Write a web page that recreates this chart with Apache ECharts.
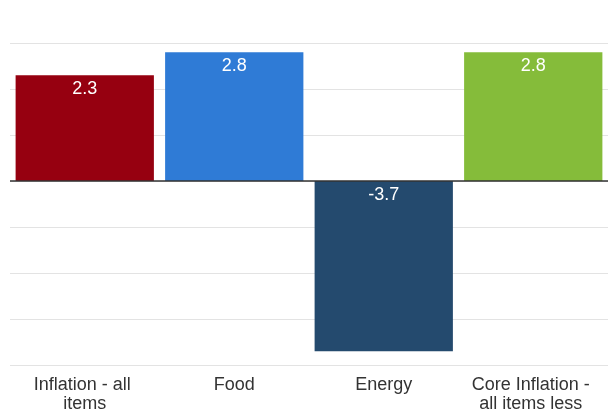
<!DOCTYPE html>
<html>
<head>
<meta charset="utf-8">
<script src="https://cdn.jsdelivr.net/npm/echarts@6/dist/echarts.min.js"></script>
<style>
html,body{margin:0;padding:0;background:#fff;overflow:hidden;}
#chart{width:613px;height:420px;}
</style>
</head>
<body>
<div id="chart"></div>
<script>
const categories = ['Inflation - all items', 'Food', 'Energy', 'Core Inflation - all items less food and energy'];
const values = [2.3, 2.8, -3.7, 2.8];
const barColors = ['#960010', '#2f7bd6', '#244a6e', '#85bc3a'];

const chart = echarts.init(document.getElementById('chart'));
chart.setOption({
  animation: false,
  grid: {left: 10, right: 5, top: 43, bottom: 55, containLabel: false, outerBoundsMode: 'none'},
  xAxis: {
    type: 'category',
    data: categories,
    axisLine: {show: false, onZero: false},
    axisTick: {show: false},
    axisLabel: {
      interval: 0,
      margin: 11,
      fontFamily: 'Liberation Sans, Arial, sans-serif',
      fontSize: 18,
      lineHeight: 19,
      color: '#333',
      width: 135,
      height: 40,
      overflow: 'break',
      lineOverflow: 'truncate'
    }
  },
  yAxis: {
    type: 'value',
    min: -4,
    max: 3,
    interval: 1,
    axisLabel: {show: false},
    axisLine: {show: false},
    axisTick: {show: false},
    splitLine: {lineStyle: {color: '#e3e3e3', width: 1}}
  },
  series: [{
    type: 'bar',
    data: values.map((v, i) => ({value: v, itemStyle: {color: barColors[i]}})),
    barCategoryGap: '7.5%',
    label: {
      show: true,
      position: 'insideTop',
      distance: 5,
      color: '#fff',
      fontFamily: 'Liberation Sans, Arial, sans-serif',
      fontSize: 18
    },
    markLine: {
      silent: true,
      symbol: 'none',
      label: {show: false},
      lineStyle: {color: '#333', width: 1.5, type: 'solid'},
      data: [{yAxis: 0}]
    }
  }]
});
</script>
</body>
</html>
